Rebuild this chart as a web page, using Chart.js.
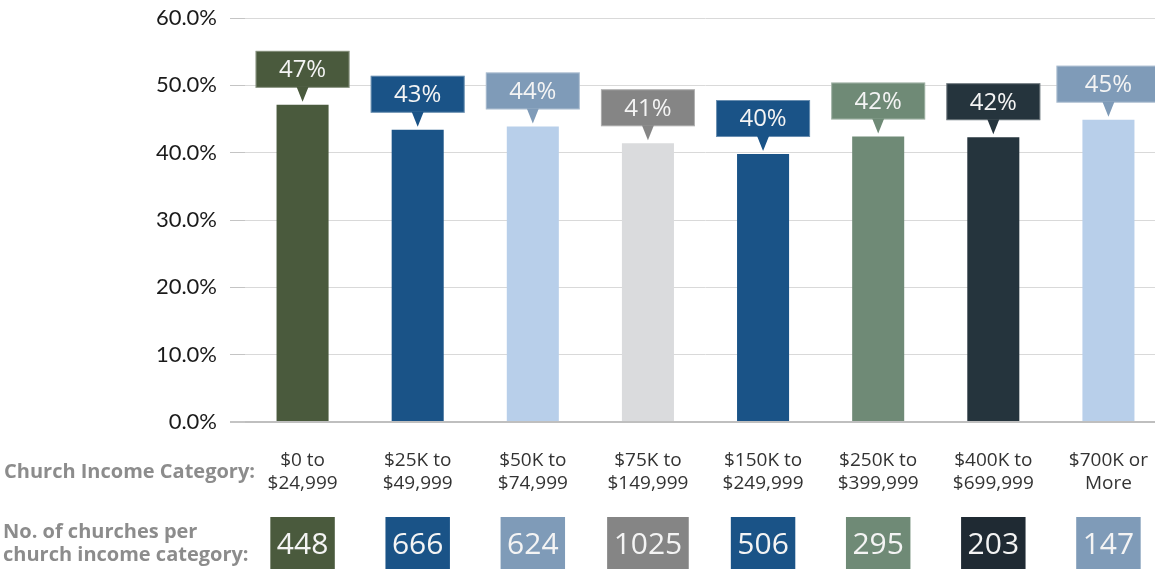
<!DOCTYPE html>
<html>
<head>
<meta charset="utf-8">
<script src="https://cdn.jsdelivr.net/npm/chart.js@4.4.1/dist/chart.umd.min.js"></script>
<style>
  html, body { margin: 0; padding: 0; background: #fff; overflow: hidden; }
  canvas { display: block; }
</style>
</head>
<body>
<canvas id="chart-income" width="1166" height="569"></canvas>
<script>
// values
const categories = [
  ["$0 to", "$24,999"], ["$25K to", "$49,999"], ["$50K to", "$74,999"], ["$75K to", "$149,999"],
  ["$150K to", "$249,999"], ["$250K to", "$399,999"], ["$400K to", "$699,999"], ["$700K or", "More"]
];
const shares = [47.1, 43.4, 43.9, 41.4, 39.8, 42.4, 42.3, 44.9];
const churchCounts = [448, 666, 624, 1025, 506, 295, 203, 147];
const yMin = 0, yMax = 60, yStep = 10;

// colours
const barColors = ['#4a5a3d', '#1a5387', '#b8cfea', '#dadbdd', '#1a5387', '#6f8a76', '#25343d', '#b8cfea'];
const tagColors = ['#4a5a3d', '#1a5387', '#7f9bb8', '#858585', '#1a5387', '#6f8a76', '#25343d', '#7f9bb8'];
const countColors = ['#4a5a3d', '#1a5387', '#7f9bb8', '#858585', '#1a5387', '#6f8a76', '#1f2a33', '#7f9bb8'];

// callouts above each bar + the bottom rows
const decorations = {
  id: 'decorations',
  afterDatasetsDraw(chart) {
    const ctx = chart.ctx;
    const meta = chart.getDatasetMeta(0);
    ctx.save();
    meta.data.forEach(function(bar, i) {
      const w = i === 7 ? 104 : 94, h = 37;
      const bottom = bar.y - 17;
      const left = bar.x - w / 2;
      ctx.fillStyle = tagColors[i];
      ctx.fillRect(left, bottom - h, w, h);
      ctx.strokeStyle = 'rgba(255,255,255,0.35)';
      ctx.lineWidth = 1;
      ctx.strokeRect(left + 0.5, bottom - h + 0.5, w - 1, h - 1);
      // pointer
      ctx.beginPath();
      ctx.moveTo(bar.x - 6, bottom - 1);
      ctx.lineTo(bar.x + 6, bottom - 1);
      ctx.lineTo(bar.x, bottom + 14);
      ctx.closePath();
      ctx.fill();
      ctx.fillStyle = '#f4f4f4';
      ctx.font = '24px "Open Sans"';
      ctx.textAlign = 'center';
      ctx.textBaseline = 'middle';
      ctx.fillText(Math.round(shares[i]) + '%', bar.x, bottom - h / 2 + 1);
    });
    ctx.restore();
  },
  afterDraw(chart) {
    const ctx = chart.ctx;
    const xs = chart.scales.x;
    ctx.save();
    ctx.fillStyle = '#8c8c8c';
    ctx.font = 'bold 20px "Open Sans"';
    ctx.textBaseline = 'middle';
    ctx.textAlign = 'right';
    ctx.fillText('Church Income Category:', 255, 472);
    ctx.textAlign = 'left';
    ctx.fillText('No. of churches per', 3, 532);
    ctx.fillText('church income category:', 3, 555);

    ctx.font = '30px "Open Sans"';
    ctx.textAlign = 'center';
    churchCounts.forEach(function(n, i) {
      const x = xs.getPixelForValue(i);
      const txt = String(n);
      const w = ctx.measureText(txt).width + 13;
      ctx.fillStyle = countColors[i];
      ctx.fillRect(x - w / 2, 517, w, 56);
      ctx.fillStyle = '#f4f4f4';
      ctx.fillText(txt, x, 545);
    });
    ctx.restore();
  }
};

const ctx = document.getElementById('chart-income').getContext('2d');
const incomeChart = new Chart(ctx, {
  type: 'bar',
  data: {
    labels: categories,
    datasets: [{
      data: shares,
      backgroundColor: barColors,
      borderWidth: 0,
      categoryPercentage: 1,
      barPercentage: 0.452
    }]
  },
  options: {
    responsive: false,
    devicePixelRatio: 1,
    animation: false,
    layout: { padding: { top: 18, left: 0, right: 0, bottom: 0 } },
    plugins: { legend: { display: false }, tooltip: { enabled: false } },
    scales: {
      y: {
        min: yMin,
        max: yMax,
        afterFit: function(s) { s.width = 245; s.paddingTop = 0; s.paddingBottom = 0; },
        border: { display: false },
        grid: {
          color: function(c) { return c.tick && c.tick.value === 0 ? '#bfbfbf' : '#d9d9d9'; },
          lineWidth: function(c) { return c.tick && c.tick.value === 0 ? 2 : 1; },
          tickLength: 15,
          tickColor: '#c4c4c4'
        },
        ticks: {
          stepSize: yStep,
          padding: 13,
          color: '#1a1a1a',
          font: { family: 'Lato', size: 22 },
          callback: function(v) { return v.toFixed(1) + '%'; }
        }
      },
      x: {
        afterFit: function(s) { s.height = 147; s.paddingLeft = 0; s.paddingRight = 0; },
        border: { display: false },
        grid: { display: false, drawTicks: false },
        ticks: {
          padding: 27,
          maxRotation: 0,
          autoSkip: false,
          color: '#333333',
          font: { family: 'Open Sans', size: 19, lineHeight: 1.2 }
        }
      }
    }
  },
  plugins: [decorations]
});
</script>
</body>
</html>
